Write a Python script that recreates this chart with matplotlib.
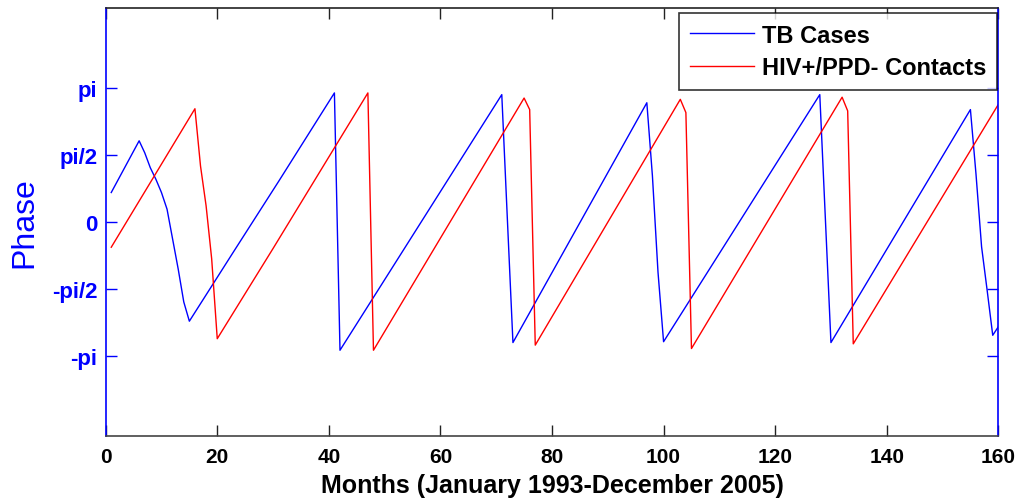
import matplotlib
matplotlib.use("Agg")
import matplotlib.pyplot as plt
import numpy as np

plt.rcParams['font.family'] = ['Liberation Sans', 'DejaVu Sans']

# phase series as (month, phase) vertices
tb_months = [1, 6, 7, 8, 9, 10, 11, 12, 13, 14, 15, 23, 31, 41, 42, 71, 72, 73,
             97, 98, 99, 100, 128, 129, 130, 155, 156, 157, 158, 159, 160]
tb_phase = [0.69, 1.90, 1.62, 1.27, 1.00, 0.69, 0.30, -0.40, -1.10, -1.87, -2.32,
            -0.68, 0.95, 3.02, -3.00, 2.98, 0.07, -2.82,
            2.79, 1.08, -1.17, -2.80, 2.98, 0.08, -2.82,
            2.63, 1.12, -0.58, -1.60, -2.65, -2.45]

hiv_months = [1, 16, 17, 18, 19, 20, 30, 47, 48, 75, 76, 77,
              103, 104, 105, 132, 133, 134, 160]
hiv_phase = [-0.59, 2.65, 1.31, 0.38, -0.86, -2.73, -0.62, 3.02, -3.00, 2.90, 2.63, -2.88,
             2.87, 2.56, -2.96, 2.92, 2.60, -2.85, 2.75]

ytick_vals = [-np.pi, -np.pi / 2, 0, np.pi / 2, np.pi]
ytick_labels = ['-pi', '-pi/2', '0', 'pi/2', 'pi']
xtick_vals = [0, 20, 40, 60, 80, 100, 120, 140, 160]

fig = plt.figure(figsize=(10.19, 5.02), dpi=100)
ax = fig.add_axes([0.1037, 0.130, 0.876, 0.8515])

ax.plot(tb_months, tb_phase, color='#0000ff', lw=1.0, label='TB Cases')
ax.plot(hiv_months, hiv_phase, color='#ff0000', lw=1.0, label='HIV+/PPD- Contacts')

ax.set_xlim(0, 160)
ax.set_ylim(-5, 5)
ax.set_xticks(xtick_vals)
ax.set_yticks(ytick_vals)
ax.set_yticklabels(ytick_labels)

ax.tick_params(axis='x', direction='in', length=8, width=1, color='#222222',
               top=True, labelsize=15, pad=8)
ax.tick_params(axis='y', direction='in', length=8, width=1, color='#0000ff',
               right=True, labelsize=16, labelcolor='#0000ff', pad=6)
for lab in ax.get_xticklabels() + ax.get_yticklabels():
    lab.set_fontweight('bold')

ax.spines['left'].set_color('#0000ff')
ax.spines['right'].set_color('#0000ff')
ax.spines['top'].set_color('#222222')
ax.spines['bottom'].set_color('#444444')
for s in ax.spines.values():
    s.set_linewidth(1.2)

ax.set_xlabel('Months (January 1993-December 2005)', fontsize=18, fontweight='bold',
              labelpad=5)
ax.set_ylabel('Phase', fontsize=23, color='#0000ff', labelpad=9)

leg = ax.legend(loc='upper right', bbox_to_anchor=(0.9985, 0.989), borderaxespad=0,
                fontsize=17, frameon=True, fancybox=False, handlelength=2.7,
                borderpad=0.45, labelspacing=0.4, handletextpad=0.35)
leg.get_frame().set_edgecolor('black')
leg.get_frame().set_linewidth(1.2)
for t in leg.get_texts():
    t.set_fontweight('bold')

fig.savefig('out.png', dpi=100)
